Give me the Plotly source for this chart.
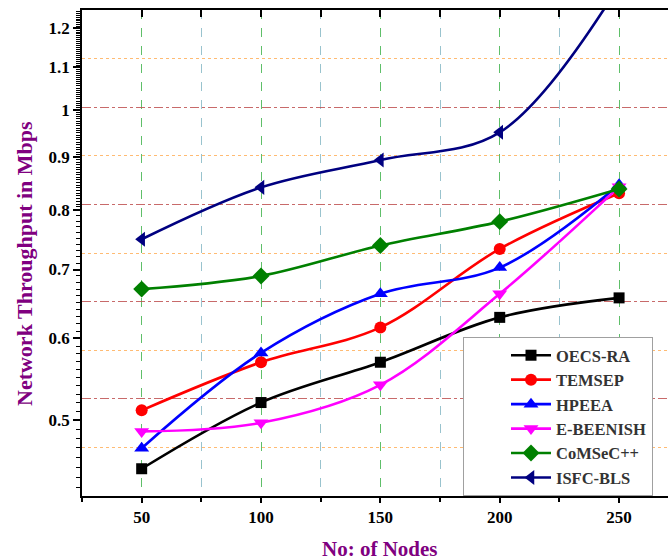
import numpy as np
import plotly.graph_objects as go

nodes = [50, 100, 150, 200, 250]
oecs_ra = [0.4485, 0.520, 0.569, 0.629, 0.657]
temsep = [0.511, 0.569, 0.615, 0.733, 0.830]
hpeea = [0.4696, 0.581, 0.663, 0.703, 0.846]
e_beenish = [0.4875, 0.497, 0.541, 0.663, 0.842]
comsec = [0.670, 0.690, 0.7385, 0.779, 0.838]
isfc_bls = [0.749, 0.841, 0.894, 0.951, 1.32]

y_tickvals = [0.5, 0.6, 0.7, 0.8, 0.9, 1.0, 1.1, 1.2]
y_ticktext = ["0.5", "0.6", "0.7", "0.8", "0.9", "1", "1.1", "1.2"]
x_tickvals = [50, 100, 150, 200, 250]

series = [
    ("OECS-RA", oecs_ra, "#000000", "square", 11),
    ("TEMSEP", temsep, "#FF0000", "circle", 12),
    ("HPEEA", hpeea, "#0000FF", "triangle-up", 13),
    ("E-BEENISH", e_beenish, "#FF00FF", "triangle-down", 13),
    ("CoMSeC++", comsec, "#008000", "diamond", 13),
    ("ISFC-BLS", isfc_bls, "#000080", "triangle-left", 13),
]

SERIF = "Liberation Serif"
fig = go.Figure()

# overlay helper trace for the top axis and the uniform background grid
fig.add_trace(go.Scatter(x=[25], y=[0], xaxis="x2", yaxis="y2", mode="markers",
                         marker=dict(opacity=0), showlegend=False, hoverinfo="skip"))

for name, vals, color, sym, size in series:
    fig.add_trace(go.Scatter(
        x=nodes, y=vals, name=name, mode="lines+markers",
        line=dict(color=color, width=2.6, shape="spline", smoothing=1),
        marker=dict(symbol=sym, size=size, color=color),
    ))

minor_vals = [round(v, 3) for v in np.arange(0.43, 0.8, 0.01)] + \
             [round(v, 3) for v in np.arange(0.8, 1.25, 0.005)]

xr = [25, 270.5]
fig.update_layout(
    width=668, height=560,
    margin=dict(l=82, r=0, t=10, b=64),
    paper_bgcolor="white", plot_bgcolor="white",
    font=dict(family=SERIF, size=17, color="black", weight="bold"),
    xaxis=dict(range=xr, tickvals=x_tickvals, ticks="outside", ticklen=5, tickwidth=1.5,
               tickcolor="black", showline=True, linecolor="black", linewidth=1.5,
               showgrid=True, gridcolor="rgba(80,190,80,0.8)", griddash="dash", gridwidth=1,
               zeroline=False,
               minor=dict(dtick=25, tick0=25, ticks="outside", ticklen=4, tickwidth=1.5,
                          tickcolor="black", showgrid=True,
                          gridcolor="rgba(110,170,185,0.7)", griddash="dash", gridwidth=1),
               tickfont=dict(family=SERIF, size=17, weight="bold")),
    xaxis2=dict(range=xr, overlaying="x", side="top", tickvals=x_tickvals, ticks="inside",
                ticklen=7, tickwidth=1.5, tickcolor="black", showticklabels=False,
                showline=True, linecolor="black", linewidth=1.5, showgrid=False,
                zeroline=False,
                minor=dict(dtick=25, tick0=25, ticks="inside", ticklen=7, tickwidth=1.5,
                           tickcolor="black", showgrid=False)),
    yaxis=dict(type="log", range=[np.log10(0.422), np.log10(1.25)],
               tickvals=y_tickvals, ticktext=y_ticktext, ticks="outside", ticklen=7,
               tickwidth=1.5, tickcolor="black", showline=True, linecolor="black",
               linewidth=1.5, showgrid=False, zeroline=False,
               minor=dict(tickvals=minor_vals, ticks="outside", ticklen=4, tickwidth=1,
                          tickcolor="black", showgrid=False),
               tickfont=dict(family=SERIF, size=17, weight="bold")),
    yaxis2=dict(overlaying="y", range=[0, 10], tick0=0, dtick=2, showticklabels=False,
                ticks="", showline=False, zeroline=False, showgrid=True,
                gridcolor="rgba(190,80,80,0.85)", griddash="dashdot", gridwidth=1,
                minor=dict(dtick=1, tick0=0, showgrid=True, ticks="",
                           gridcolor="rgba(255,175,90,0.85)", griddash="dot", gridwidth=1)),
    legend=dict(x=(463 - 82) / 586, y=(496 - 337) / 486, xanchor="left", yanchor="top",
                bgcolor="white", bordercolor="#A0A0A0", borderwidth=1,
                font=dict(family=SERIF, size=16.5, color="#333333", weight="bold"),
                indentation=42, itemwidth=40, tracegroupgap=0),
    showlegend=True,
    annotations=[
        dict(text="Network Throughput in Mbps", xref="paper", yref="paper",
             x=(24 - 82) / 586, y=(496 - 264) / 486, xanchor="center", yanchor="middle",
             textangle=-90, showarrow=False,
             font=dict(family=SERIF, size=22, color="#800080", weight="bold")),
        dict(text="No: of Nodes", xref="paper", yref="paper",
             x=(380 - 82) / 586, y=(496 - 549) / 486, xanchor="center", yanchor="middle",
             showarrow=False,
             font=dict(family=SERIF, size=21, color="#800080", weight="bold")),
    ],
)

fig.write_html("out.html", config={"displayModeBar": False},
               post_script="document.body.style.margin='0';")
